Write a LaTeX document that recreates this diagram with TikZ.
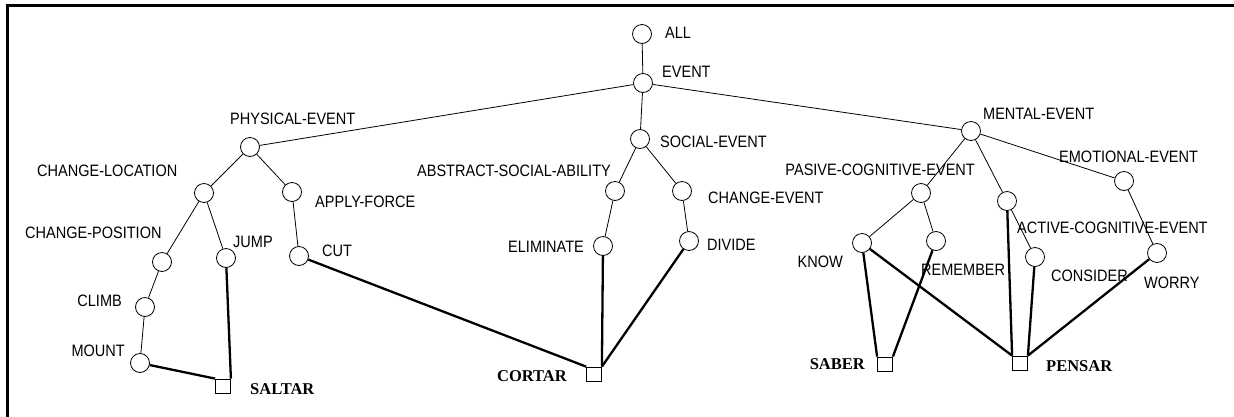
\documentclass[tikz,border=0pt]{standalone}
\usepackage{fontspec}
\setmainfont{Liberation Serif}
\setsansfont{Liberation Sans}
\newfontfamily\labfont[FakeStretch=0.88]{Liberation Sans}
\begin{document}
\begin{tikzpicture}[x=1pt,y=-1pt,
  ev/.style={circle,draw,minimum size=19pt,inner sep=0pt,line width=0.8pt},
  lex/.style={rectangle,draw,minimum width=15pt,minimum height=14pt,inner sep=0pt,line width=0.8pt},
  lab/.style={font=\labfont\fontsize{16.5}{16.5}\selectfont,anchor=base west,inner sep=0pt,text=black},
  wlab/.style={font=\rmfamily\bfseries\fontsize{16.5}{16.5}\selectfont,anchor=base west,inner sep=0pt},
  thin edge/.style={line width=0.8pt},
  thick edge/.style={line width=2.3pt},
  frame/.style={line width=2.5pt}]
\useasboundingbox (0,0) rectangle (1234,416);
% frame (left and top)
\coordinate (fb) at (7.5,420);
\coordinate (ftl) at (7.5,5.5);
\coordinate (ftr) at (1240,5.5);
\draw[frame] (fb) -- (ftl) -- (ftr);

% concept nodes
\node[ev] (all) at (642,34) {};
\node[ev] (event) at (643,83) {};
\node[ev] (phys) at (250,147) {};
\node[ev] (social) at (640,139) {};
\node[ev] (mental) at (971,131) {};
\node[ev] (chloc) at (204,193) {};
\node[ev] (apply) at (292,192) {};
\node[ev] (chpos) at (162,262) {};
\node[ev] (jump) at (226,258) {};
\node[ev] (cut) at (299,256) {};
\node[ev] (climb) at (145,307) {};
\node[ev] (mount) at (140,363) {};
\node[ev] (abs) at (615,191) {};
\node[ev] (chev) at (682,191) {};
\node[ev] (elim) at (603,246) {};
\node[ev] (divide) at (689,241) {};
\node[ev] (pasive) at (921,193) {};
\node[ev] (active) at (1007,201) {};
\node[ev] (emot) at (1124,181) {};
\node[ev] (know) at (862,243) {};
\node[ev] (remem) at (936,241) {};
\node[ev] (consider) at (1035,257) {};
\node[ev] (worry) at (1157,253) {};

% word nodes
\node[lex] (saltar) at (223,386) {};
\node[lex] (cortar) at (594,374) {};
\node[lex] (saber) at (885,364) {};
\node[lex] (pensar) at (1020,363) {};

% labels
\node[lab] (lall) at (665,38) {ALL};
\node[lab] (levent) at (662,77) {EVENT};
\node[lab] (lphys) at (230,124) {PHYSICAL-EVENT};
\node[lab] (lsocial) at (660,147) {SOCIAL-EVENT};
\node[lab] (lmental) at (983,119) {MENTAL-EVENT};
\node[lab] (lchloc) at (37,176) {CHANGE-LOCATION};
\node[lab] (lapply) at (315,207) {APPLY-FORCE};
\node[lab,anchor=base east] (labs) at (611,176) {ABSTRACT-SOCIAL-ABILITY};
\node[lab] (lchev) at (708,203) {CHANGE-EVENT};
\node[lab,anchor=base east] (lpasive) at (975,175) {PASIVE-COGNITIVE-EVENT};
\node[lab] (lemot) at (1059,162) {EMOTIONAL-EVENT};
\node[lab] (lchpos) at (25,238) {CHANGE-POSITION};
\node[lab] (ljump) at (233,247) {JUMP};
\node[lab] (lcut) at (322,256) {CUT};
\node[lab,anchor=base east] (lelim) at (584,252) {ELIMINATE};
\node[lab] (ldivide) at (707,250) {DIVIDE};
\node[lab,anchor=base east] (lknow) at (843,267) {KNOW};
\node[lab] (lremem) at (921,275) {REMEMBER};
\node[lab] (lactive) at (1017,233) {ACTIVE-COGNITIVE-EVENT};
\node[lab] (lconsider) at (1051,281) {CONSIDER};
\node[lab] (lworry) at (1144,288) {WORRY};
\node[lab,anchor=base east] (lclimb) at (122,306) {CLIMB};
\node[lab,anchor=base east] (lmount) at (125,356) {MOUNT};
\node[wlab] (lsaltar) at (250,394) {SALTAR};
\node[wlab,anchor=base east] (lcortar) at (567,381) {CORTAR};
\node[wlab,anchor=base east] (lsaber) at (865,369) {SABER};
\node[wlab] (lpensar) at (1046,371) {PENSAR};

% hierarchy (thin)
\draw[thin edge] (all) -- (event);
\draw[thin edge] (event) -- (phys);
\draw[thin edge] (event) -- (social);
\draw[thin edge] (event) -- (mental);
\draw[thin edge] (phys) -- (chloc);
\draw[thin edge] (phys) -- (apply);
\draw[thin edge] (chloc) -- (chpos);
\draw[thin edge] (chloc) -- (jump);
\draw[thin edge] (chpos) -- (climb);
\draw[thin edge] (climb) -- (mount);
\draw[thin edge] (apply) -- (cut);
\draw[thin edge] (social) -- (abs);
\draw[thin edge] (social) -- (chev);
\draw[thin edge] (abs) -- (elim);
\draw[thin edge] (chev) -- (divide);
\draw[thin edge] (mental) -- (pasive);
\draw[thin edge] (mental) -- (active);
\draw[thin edge] (mental) -- (emot);
\draw[thin edge] (pasive) -- (know);
\draw[thin edge] (pasive) -- (remem);
\draw[thin edge] (active) -- (consider);
\draw[thin edge] (emot) -- (worry);

% word links (thick)
\draw[thick edge] (mount) -- (saltar.north west);
\draw[thick edge] (jump) -- (saltar.north east);
\draw[thick edge] (cut) -- (cortar.north west);
\draw[thick edge] (elim) -- (cortar.north east);
\draw[thick edge] (divide) -- (cortar.north east);
\draw[thick edge] (know) -- (saber.north west);
\draw[thick edge] (remem) -- (saber.north east);
\draw[thick edge] (know) -- (pensar.north west);
\draw[thick edge] (active) -- (pensar.north west);
\draw[thick edge] (consider) -- (pensar.north east);
\draw[thick edge] (worry) -- (pensar.north east);
\end{tikzpicture}
\end{document}
